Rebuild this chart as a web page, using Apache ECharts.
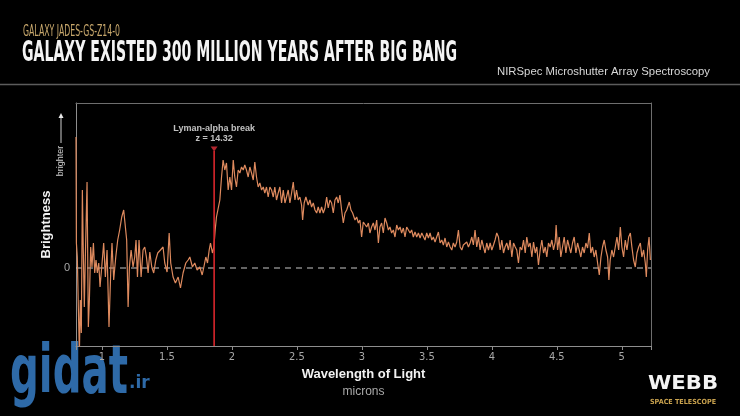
<!DOCTYPE html>
<html><head><meta charset="utf-8">
<script src="https://cdn.jsdelivr.net/npm/echarts@6/dist/echarts.min.js"></script>
<style>html,body{margin:0;padding:0;background:#000;}#c{width:740px;height:416px;}</style>
</head><body><div id="c"></div>
<script>
// ---- data (wavelength in microns, brightness in arbitrary units) ----
const wavelength = [
 0.800,0.803,0.810,0.818,0.826,0.833,0.841,0.849,0.856,0.864,
 0.872,0.885,0.895,0.903,0.913,0.923,0.934,0.944,0.954,0.964,
 0.975,0.985,0.998,1.013,1.026,1.039,1.054,1.067,1.077,1.090,
 1.106,1.121,1.136,1.152,1.167,1.180,1.190,1.201,1.211,1.224,
 1.239,1.252,1.262,1.273,1.285,1.301,1.316,1.329,1.342,1.355,
 1.368,1.383,1.398,1.414,1.429,1.450,1.470,1.483,1.501,1.517,
 1.529,1.547,1.565,1.586,1.604,1.624,1.645,1.663,1.676,1.696,
 1.714,1.732,1.753,1.771,1.784,1.799,1.812,1.825,1.835,1.850,
 1.861,1.871,1.881,1.894,1.907,1.920,1.932,1.945,1.958,1.971,
 1.984,1.997,2.010,2.022,2.035,2.048,2.061,2.074,2.087,2.099,
 2.112,2.125,2.138,2.151,2.164,2.176,2.189,2.202,2.215,2.228,
 2.241,2.253,2.266,2.279,2.292,2.305,2.318,2.330,2.343,2.356,
 2.369,2.382,2.395,2.408,2.420,2.433,2.446,2.459,2.472,2.485,
 2.497,2.510,2.523,2.536,2.544,2.556,2.569,2.587,2.600,2.613,
 2.626,2.639,2.652,2.664,2.677,2.690,2.703,2.716,2.729,2.741,
 2.754,2.767,2.780,2.793,2.806,2.818,2.831,2.844,2.857,2.870,
 2.883,2.903,2.916,2.929,2.947,2.960,2.973,2.985,2.998,3.011,
 3.024,3.037,3.050,3.062,3.075,3.088,3.101,3.114,3.127,3.139,
 3.152,3.165,3.178,3.191,3.204,3.216,3.229,3.242,3.255,3.268,
 3.281,3.294,3.306,3.319,3.332,3.345,3.358,3.371,3.383,3.396,
 3.409,3.422,3.435,3.448,3.461,3.473,3.486,3.499,3.512,3.525,
 3.538,3.550,3.563,3.576,3.589,3.602,3.615,3.627,3.640,3.653,
 3.666,3.679,3.692,3.704,3.717,3.730,3.743,3.756,3.769,3.781,
 3.794,3.807,3.820,3.833,3.846,3.858,3.871,3.884,3.897,3.910,
 3.923,3.936,3.948,3.961,3.974,3.987,4.000,4.013,4.025,4.038,
 4.051,4.064,4.077,4.090,4.102,4.115,4.128,4.141,4.154,4.167,
 4.180,4.192,4.205,4.218,4.231,4.244,4.257,4.269,4.282,4.295,
 4.308,4.321,4.334,4.346,4.359,4.372,4.385,4.398,4.411,4.423,
 4.436,4.449,4.462,4.475,4.488,4.495,4.506,4.519,4.531,4.544,
 4.557,4.570,4.583,4.596,4.608,4.621,4.634,4.647,4.660,4.673,
 4.685,4.698,4.711,4.724,4.737,4.750,4.762,4.775,4.788,4.801,
 4.814,4.827,4.840,4.852,4.865,4.878,4.891,4.901,4.911,4.924,
 4.937,4.950,4.963,4.976,4.989,5.001,5.014,5.027,5.040,5.053,
 5.066,5.078,5.091,5.104,5.117,5.130,5.143,5.155,5.168,5.181,
 5.189,5.199,5.210,5.220
];
const brightness = [
 1.31,0.25,0.11,-0.39,-0.85,-0.32,-0.65,0.78,0.18,-0.39,
 0.11,0.86,-0.59,-0.32,0.21,0.01,0.25,-0.05,0.08,-0.05,
 0.05,-0.19,0.01,0.25,-0.09,0.18,-0.59,-0.05,0.25,-0.12,
 0.11,0.28,0.38,0.51,0.58,0.60,0.28,-0.39,0.01,0.18,
 0.01,0.11,0.28,-0.09,0.28,-0.09,0.18,0.21,0.11,-0.05,
 0.16,0.01,-0.05,0.08,0.15,0.18,0.21,0.05,-0.04,0.35,
 0.05,-0.09,-0.15,-0.09,-0.20,-0.05,0.05,0.08,0.11,0.01,
 0.05,-0.02,0.01,-0.07,0.01,0.11,0.05,0.18,0.25,0.15,
 0.21,0.38,0.51,0.53,0.68,0.91,1.08,0.98,1.05,0.78,
 0.91,0.78,1.08,0.91,0.81,0.98,0.95,1.01,0.98,1.03,
 0.98,0.91,1.01,0.95,0.88,1.06,0.91,0.81,0.85,0.78,
 0.81,0.75,0.81,0.71,0.81,0.78,0.71,0.81,0.68,0.75,
 0.81,0.65,0.78,0.65,0.71,0.78,0.65,0.75,0.86,0.68,
 0.78,0.68,0.71,0.63,0.48,0.65,0.71,0.63,0.68,0.61,
 0.65,0.58,0.55,0.61,0.55,0.61,0.55,0.60,0.71,0.60,
 0.68,0.65,0.55,0.68,0.71,0.65,0.73,0.58,0.45,0.55,
 0.58,0.66,0.58,0.55,0.48,0.51,0.45,0.48,0.31,0.46,
 0.48,0.41,0.45,0.35,0.41,0.45,0.38,0.48,0.25,0.41,
 0.45,0.35,0.50,0.45,0.38,0.41,0.35,0.38,0.31,0.43,
 0.38,0.41,0.35,0.40,0.31,0.41,0.38,0.35,0.38,0.31,
 0.36,0.31,0.35,0.30,0.35,0.33,0.28,0.35,0.30,0.35,
 0.28,0.31,0.26,0.31,0.36,0.25,0.28,0.23,0.30,0.21,
 0.26,0.21,0.18,0.25,0.21,0.26,0.38,0.21,0.18,0.23,
 0.21,0.26,0.21,0.25,0.31,0.23,0.38,0.21,0.31,0.18,
 0.28,0.21,0.15,0.25,0.18,0.25,0.18,0.23,0.28,0.35,
 0.31,0.18,0.28,0.15,0.21,0.25,0.18,0.28,0.11,0.25,
 0.21,0.18,0.05,0.21,0.18,0.28,0.15,0.31,0.21,0.25,
 0.11,0.26,0.15,0.21,0.03,0.18,0.28,0.15,0.21,0.11,
 0.25,0.21,0.28,0.18,0.26,0.43,0.18,0.31,0.11,0.21,
 0.31,0.15,0.28,0.21,0.15,0.25,0.31,0.15,0.25,0.18,
 0.11,0.21,0.15,0.25,0.20,0.35,0.15,0.21,0.11,0.18,
 0.05,-0.07,0.11,0.21,0.28,0.18,0.11,-0.12,0.08,0.18,
 0.11,0.21,0.31,0.18,0.41,0.21,0.11,0.28,0.18,0.31,
 0.35,0.21,0.08,0.01,0.15,0.21,0.25,0.11,0.18,0.05,
 -0.09,0.18,0.31,0.08
];
const xTickValues = [1, 1.5, 2, 2.5, 3, 3.5, 4, 4.5, 5];
const yTickValues = [0];
const xRange = [0.8, 5.225];
const yRange = [-0.78, 1.65];
const breakWavelength = 1.863;   // Lyman-alpha break, z = 14.32
const breakLineTop = 1.17;
const breakMarkerY = 1.19;
const breakTitle = 'Lyman-alpha break';
const breakRedshift = 'z = 14.32';

const subtitleText = 'GALAXY JADES-GS-Z14-0';
const titleText = 'GALAXY EXISTED 300 MILLION YEARS AFTER BIG BANG';
const instrumentText = 'NIRSpec Microshutter Array Spectroscopy';

// ---- helpers ----
const mctx = document.createElement('canvas').getContext('2d');
function fitScale(text, font, target) { mctx.font = font; return target / mctx.measureText(text).width; }

const condensed = '"Liberation Sans Narrow", "DejaVu Sans Condensed", "Liberation Sans", sans-serif';
const titleFont = 'bold 29px ' + condensed;
const subFont = '15px ' + condensed;
const instFont = '11px "Liberation Sans", Arial, sans-serif';
const webbFont = 'bold 20px "DejaVu Sans", sans-serif';
const stFont = 'bold 7px "DejaVu Sans", sans-serif';
const wmFont = 'bold 60px "DejaVu Sans", sans-serif';

const spectrum = wavelength.map((w, i) => [w, brightness[i]]);

const chart = echarts.init(document.getElementById('c'), null, { renderer: 'canvas' });
chart.setOption({
  backgroundColor: '#000',
  animation: false,
  grid: { left: 76, top: 103, right: 89, bottom: 70, containLabel: false },
  xAxis: [{
    type: 'value', min: xRange[0], max: xRange[1], position: 'bottom',
    axisLine: { show: true, onZero: false, lineStyle: { color: '#8e8e8e', width: 1 } },
    axisTick: { show: true, customValues: [xRange[0]].concat(xTickValues, [xRange[1]]), length: 4, lineStyle: { color: '#8e8e8e' } },
    axisLabel: { customValues: xTickValues, color: '#a8a8a8', fontSize: 11, fontFamily: condensed, margin: 6, formatter: v => String(v) },
    splitLine: { show: false },
    name: '{t|Wavelength of Light}\n{s|microns}', nameLocation: 'middle', nameGap: 18,
    nameTextStyle: { rich: {
      t: { color: '#f2f2f2', fontSize: 13, fontWeight: 'bold', fontFamily: '"Liberation Sans", Arial, sans-serif', lineHeight: 17, align: 'center' },
      s: { color: '#a8a8a8', fontSize: 12, fontFamily: '"Liberation Sans", Arial, sans-serif', lineHeight: 17, align: 'center' } } }
  }, {
    type: 'value', min: xRange[0], max: xRange[1], position: 'top',
    axisLine: { show: true, onZero: false, lineStyle: { color: '#6e6e6e', width: 1 } },
    axisTick: { show: false }, axisLabel: { show: false }, splitLine: { show: false }
  }],
  yAxis: [{
    type: 'value', min: yRange[0], max: yRange[1], position: 'left',
    axisLine: { show: true, onZero: false, lineStyle: { color: '#8e8e8e', width: 1 } },
    axisTick: { show: false },
    axisLabel: { customValues: yTickValues, color: '#a8a8a8', fontSize: 11, margin: 6, fontFamily: '"Liberation Sans", Arial, sans-serif' },
    splitLine: { show: false },
    name: 'Brightness', nameLocation: 'middle', nameRotate: 90, nameGap: 23,
    nameTextStyle: { color: '#f2f2f2', fontSize: 13, fontWeight: 'bold', fontFamily: '"Liberation Sans", Arial, sans-serif' }
  }, {
    type: 'value', min: yRange[0], max: yRange[1], position: 'right',
    axisLine: { show: true, onZero: false, lineStyle: { color: '#6e6e6e', width: 1 } },
    axisTick: { show: false }, axisLabel: { show: false }, splitLine: { show: false }
  }],
  series: [{
    name: 'zero', type: 'line', xAxisIndex: 0, yAxisIndex: 0, z: 2,
    data: [[xRange[0], 0], [xRange[1], 0]], symbol: 'none', silent: true,
    lineStyle: { color: '#c8c8c8', width: 1, type: [6, 5] }
  }, {
    name: 'spectrum', type: 'line', xAxisIndex: 0, yAxisIndex: 0, z: 3,
    data: spectrum, symbol: 'none', showSymbol: false,
    lineStyle: { color: '#de8a5e', width: 1.2 }
  }, {
    name: 'break', type: 'line', xAxisIndex: 0, yAxisIndex: 0, z: 4,
    data: [[breakWavelength, yRange[0]], [breakWavelength, breakLineTop]], symbol: 'none',
    lineStyle: { color: '#d9262c', width: 1.6 }
  }, {
    name: 'breakMarker', type: 'scatter', xAxisIndex: 0, yAxisIndex: 0, z: 5,
    data: [[breakWavelength, breakMarkerY]], symbol: 'triangle', symbolRotate: 180, symbolSize: [7, 5],
    itemStyle: { color: '#e0303a' },
    label: { show: true, position: 'top', distance: 3,
      formatter: '{a|' + breakTitle + '}\n{b|' + breakRedshift + '}',
      rich: {
        a: { color: '#f0f0f0', fontSize: 9, fontWeight: 'bold', fontFamily: '"Liberation Sans", Arial, sans-serif', lineHeight: 10, align: 'center' },
        b: { color: '#f0f0f0', fontSize: 9, fontWeight: 'bold', fontFamily: '"Liberation Sans", Arial, sans-serif', lineHeight: 10, align: 'center' } } }
  }],
  graphic: [
    { type: 'text', x: 23, y: 32, scaleX: fitScale(subtitleText, subFont, 97), style: { text: subtitleText, font: subFont, fill: '#c8a86c', textVerticalAlign: 'middle' } },
    { type: 'text', x: 22, y: 53, scaleX: fitScale(titleText, titleFont, 435), style: { text: titleText, font: titleFont, fill: '#f4f4f4', textVerticalAlign: 'middle' } },
    { type: 'text', x: 497, y: 72, scaleX: fitScale(instrumentText, instFont, 213), style: { text: instrumentText, font: instFont, fill: '#d8d8d8', textVerticalAlign: 'middle' } },
    { type: 'line', shape: { x1: 0, y1: 84.5, x2: 740, y2: 84.5 }, style: { stroke: '#5c5c5c', lineWidth: 1.5 } },
    { type: 'text', x: 61, y: 161, rotation: Math.PI / 2, style: { text: 'brighter', font: '9px "Liberation Sans", Arial, sans-serif', fill: '#cfcfcf', textAlign: 'center', textVerticalAlign: 'middle' } },
    { type: 'line', shape: { x1: 61, y1: 143, x2: 61, y2: 117 }, style: { stroke: '#cfcfcf', lineWidth: 1 } },
    { type: 'polygon', shape: { points: [[58.5, 118], [63.5, 118], [61, 113]] }, style: { fill: '#e8e8e8' } },
    { type: 'text', x: 683, y: 384, scaleX: fitScale('WEBB', webbFont, 70), style: { text: 'WEBB', font: webbFont, fill: '#f4f4f4', textAlign: 'center', textVerticalAlign: 'middle' } },
    { type: 'text', x: 683, y: 402, scaleX: fitScale('SPACE TELESCOPE', stFont, 66), style: { text: 'SPACE TELESCOPE', font: stFont, fill: '#c9a24e', textAlign: 'center', textVerticalAlign: 'middle' } },
    { type: 'text', x: 10, y: 376, scaleX: fitScale('gidat', wmFont, 118), scaleY: 1.12, style: { text: 'gidat', font: wmFont, fill: '#2e6aa8', textVerticalAlign: 'middle' } },
    { type: 'text', x: 129, y: 384, style: { text: '.ir', font: 'bold 17px "DejaVu Sans", sans-serif', fill: '#2e6aa8', textVerticalAlign: 'middle' } }
  ]
});
</script>
</body></html>
